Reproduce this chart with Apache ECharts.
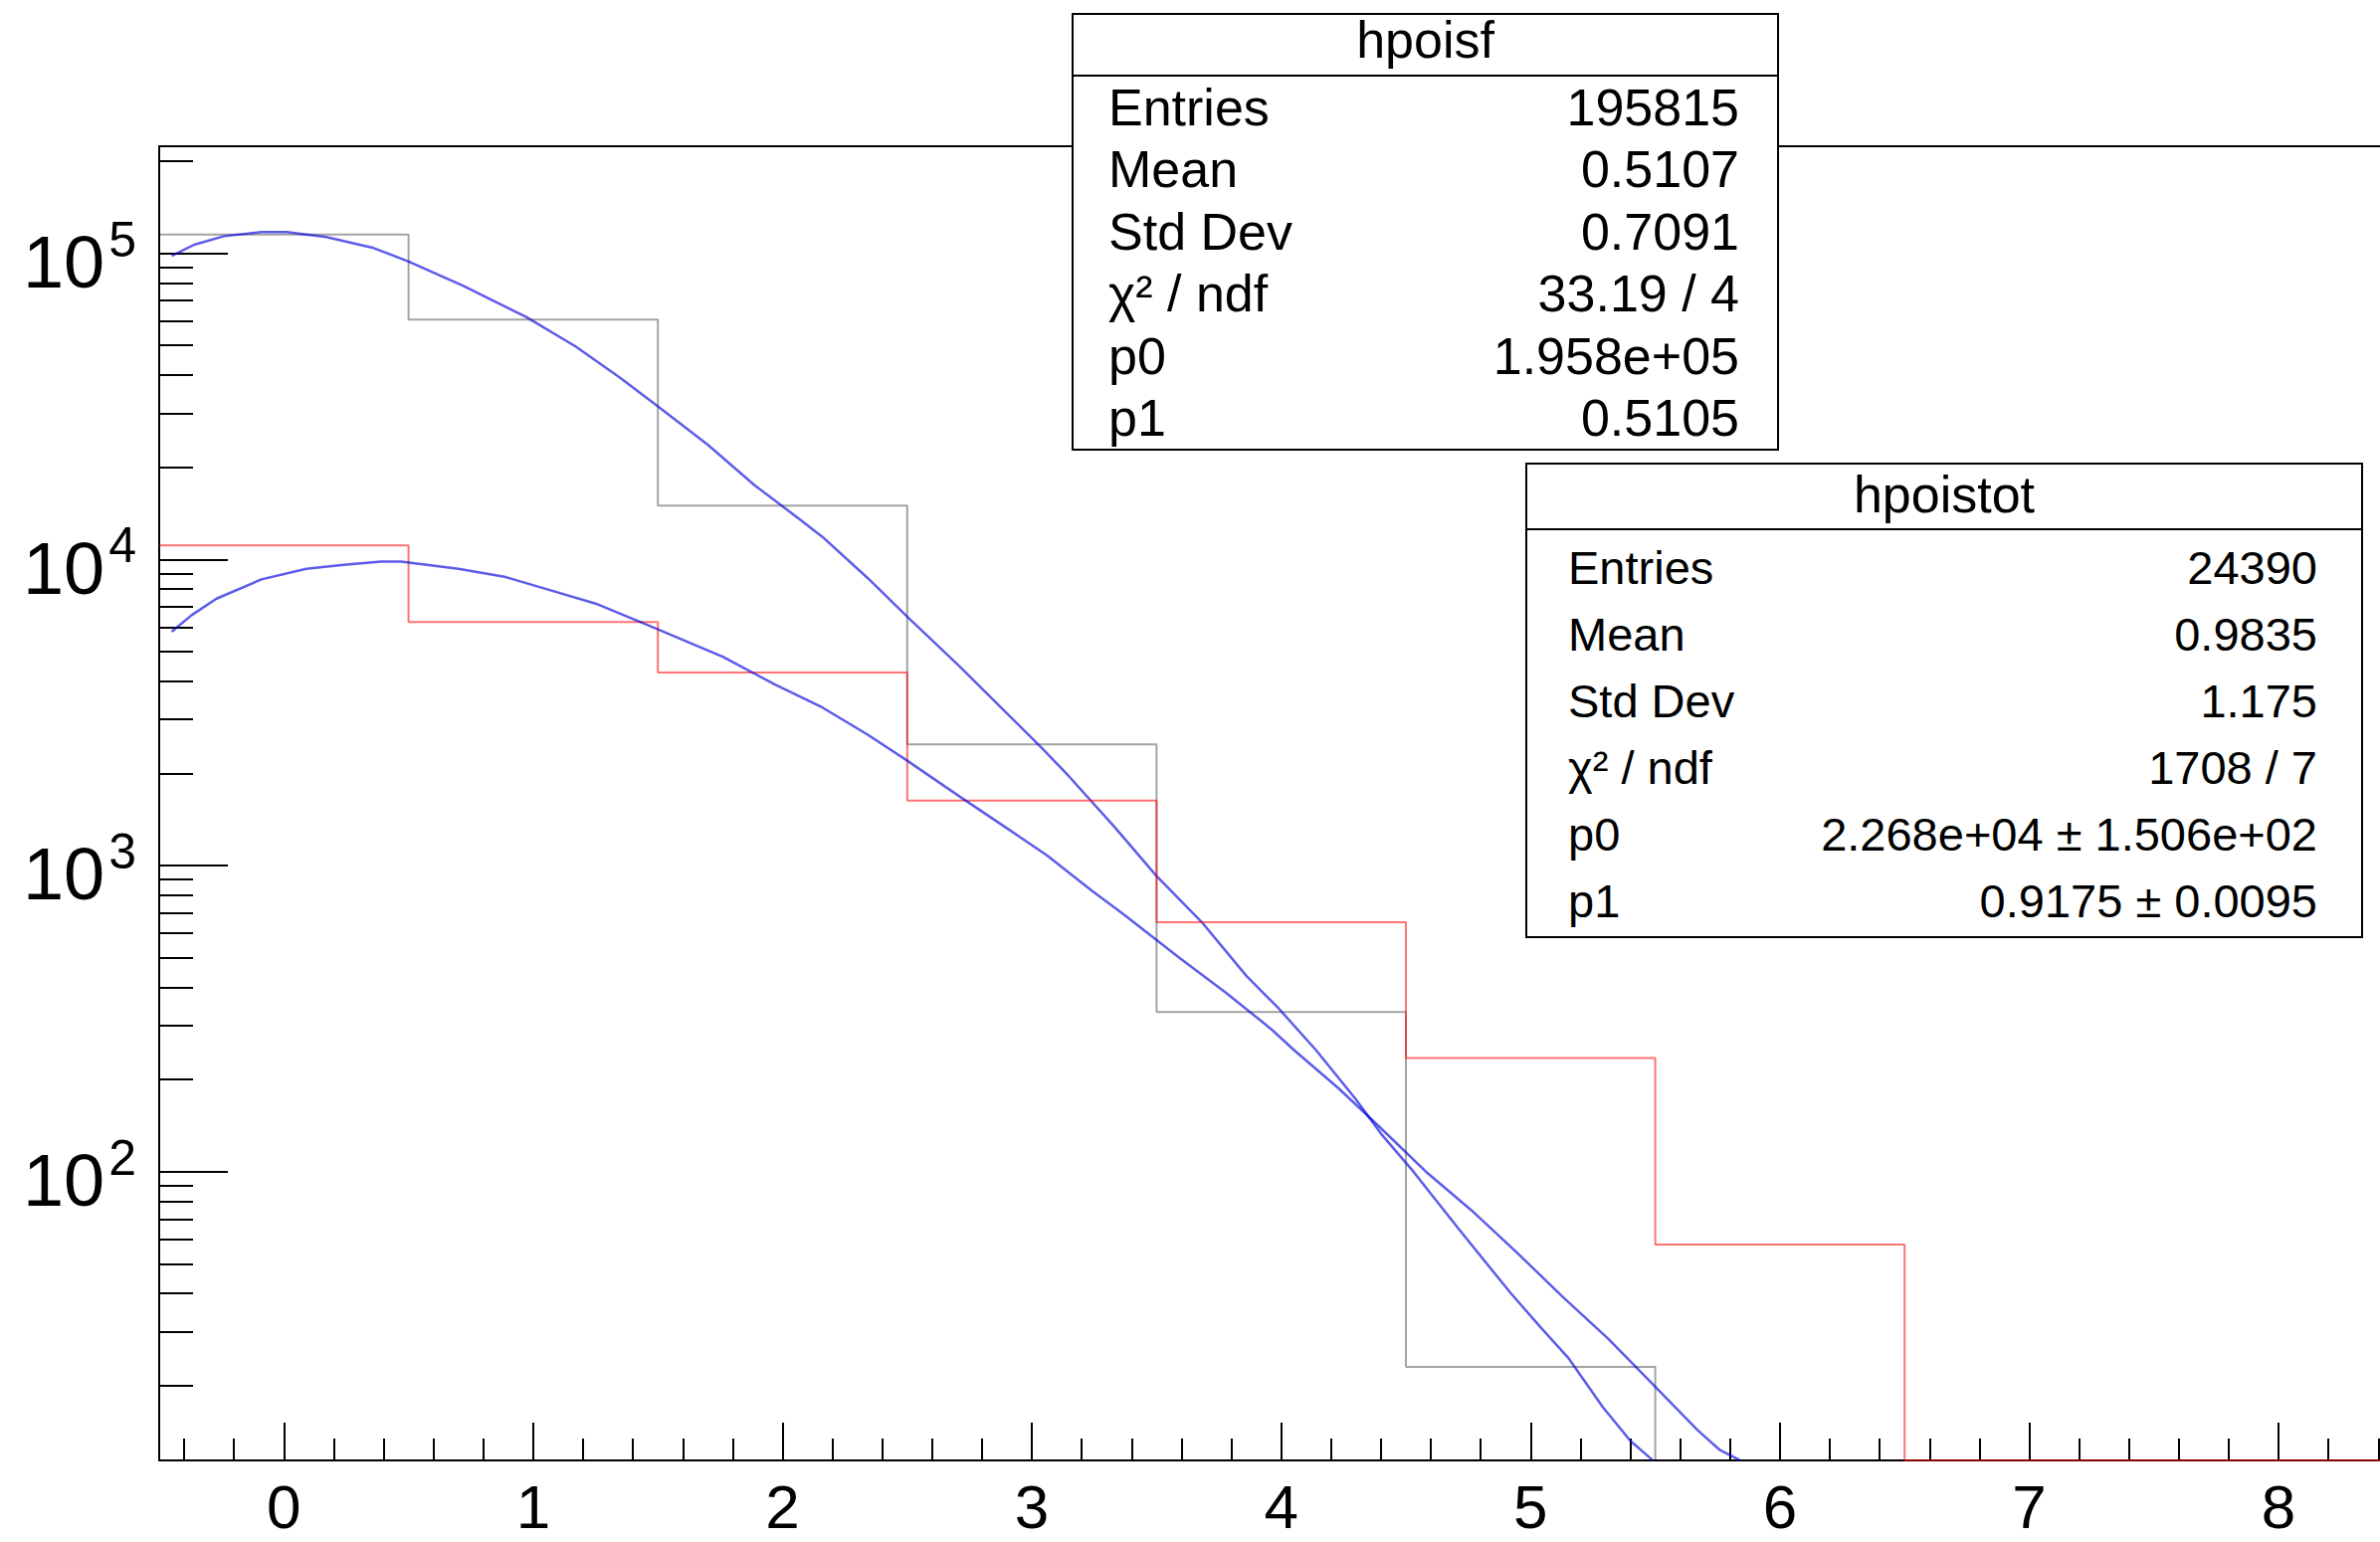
<!DOCTYPE html>
<html><head><meta charset="utf-8">
<script src="https://cdn.jsdelivr.net/npm/echarts@6.0.0/dist/echarts.min.js"></script>
<style>html,body{margin:0;padding:0;background:#fff;overflow:hidden}#c{width:2392px;height:1550px}</style>
</head><body><div id="c"></div>
<script>
// ---------- data ----------
const binCenters = [0, 1, 2, 3, 4, 5, 6, 7, 8];
const hpoisfCounts = [115100, 60700, 14980, 2486, 332, 23.0, 0, 0, 0];
const hpoistotCounts = [11100, 6240, 4270, 1630, 652, 235, 57.8, 0, 0];

const hpoisfFit = [[-0.45, 98000], [-0.36, 106600], [-0.24, 113700], [-0.09, 117200], [0.01, 117200],
  [0.17, 112900], [0.36, 104000], [0.5, 94000], [0.72, 78200], [0.97, 62000], [1.17, 49600],
  [1.35, 39100], [1.5, 31600], [1.7, 23700], [1.89, 17400], [2.07, 13500], [2.16, 11840],
  [2.34, 8710], [2.5, 6500], [2.71, 4470], [2.89, 3200], [3.04, 2420], [3.15, 1950], [3.33, 1340],
  [3.5, 923], [3.68, 655], [3.86, 436], [3.99, 341], [4.14, 249], [4.3, 172], [4.4, 133],
  [4.53, 100], [4.71, 65.2], [4.92, 40.1], [5.04, 31.0], [5.15, 24.7], [5.29, 17.0], [5.4, 13.2], [5.49, 11.4]];

const hpoistotFit = [[-0.45, 5800], [-0.37, 6570], [-0.27, 7440], [-0.09, 8600], [0.09, 9310],
  [0.24, 9590], [0.39, 9840], [0.47, 9840], [0.7, 9310], [0.89, 8750], [1.07, 7920], [1.25, 7170],
  [1.46, 6100], [1.76, 4810], [1.97, 3900], [2.16, 3280], [2.34, 2680], [2.5, 2200], [2.71, 1680],
  [2.89, 1340], [3.06, 1080], [3.24, 828], [3.37, 690], [3.59, 500], [3.78, 383], [3.96, 292],
  [4.05, 250], [4.23, 187], [4.39, 141], [4.58, 100], [4.76, 75.1], [4.94, 54.9], [5.13, 38.9],
  [5.31, 28.5], [5.49, 20.2], [5.67, 14.3], [5.76, 12.3], [5.84, 11.4]];

const xMajorTicks = [0, 1, 2, 3, 4, 5, 6, 7, 8];
const yMajorTicks = [100, 1000, 10000, 100000];

const statsFTitle = 'hpoisf';
const statsFLabels = ['Entries', 'Mean', 'Std Dev', 'χ² / ndf', 'p0', 'p1'];
const statsFValues = ['195815', '0.5107', '0.7091', '33.19 / 4', '1.958e+05', '0.5105'];
const statsTTitle = 'hpoistot';
const statsTLabels = ['Entries', 'Mean', 'Std Dev', 'χ² / ndf', 'p0', 'p1'];
const statsTValues = ['24390', '0.9835', '1.175', '1708 / 7', '2.268e+04 ± 1.506e+02', '0.9175 ± 0.0095'];

// ---------- axis ranges ----------
const X_MIN = -0.5, X_MAX = 8.4066;   // frame continues past the right edge of the picture
const Y_MIN = 11.39, Y_MAX = 2.236e5;
const FONT = '"Liberation Sans", Arial, Helvetica, sans-serif';

const xMinorTicks = [];
for (let k = -2; k <= 42; k++) { if (k % 5 !== 0) xMinorTicks.push(Math.round(k * 2) / 10); }
const yMinorTicks = [];
[10, 100, 1000, 10000, 100000].forEach(d => { for (let m = 2; m <= 9; m++) { const v = m * d; if (v > Y_MIN && v < Y_MAX) yMinorTicks.push(v); } });

function histLine(counts) {
  const pts = [];
  counts.forEach((c, i) => {
    const v = Math.max(c, Y_MIN);
    pts.push([binCenters[i] - 0.5, v], [binCenters[i] + 0.5, v]);
  });
  return pts;
}

function statsBox(b) {
  const els = [];
  els.push({ type: 'rect', z: 100, shape: { x: b.x, y: b.y, width: b.w, height: b.h },
    style: { fill: '#fff', stroke: '#000', lineWidth: 2 } });
  els.push({ type: 'line', z: 101, shape: { x1: b.x, y1: b.headY, x2: b.x + b.w, y2: b.headY },
    style: { stroke: '#000', lineWidth: 2 } });
  els.push({ type: 'text', z: 101, x: b.x + b.w / 2, y: b.titleY,
    style: { text: b.title, fontSize: b.titleSize, fontFamily: FONT, fill: '#000', align: 'center', verticalAlign: 'middle' } });
  b.labels.forEach((l, i) => {
    const yy = b.row0 + i * b.rowStep;
    els.push({ type: 'text', z: 101, x: b.labelX, y: yy,
      style: { text: l, fontSize: b.rowSize, fontFamily: FONT, fill: '#000', align: 'left', verticalAlign: 'middle' } });
    els.push({ type: 'text', z: 101, x: b.valueX, y: yy,
      style: { text: b.values[i], fontSize: b.rowSize, fontFamily: FONT, fill: '#000', align: 'right', verticalAlign: 'middle' } });
  });
  return els;
}

const blackLine = { color: '#000', width: 2 };

const option = {
  animation: false,
  backgroundColor: '#fff',
  grid: { left: 160, top: 147, right: 0, bottom: 82, show: false, containLabel: false },
  xAxis: [
    { type: 'value', min: X_MIN, max: X_MAX, position: 'bottom',
      axisLine: { show: true, onZero: false, lineStyle: blackLine },
      axisTick: { show: true, inside: true, length: 38, customValues: xMajorTicks, lineStyle: blackLine },
      axisLabel: { show: true, customValues: xMajorTicks, margin: 15, fontSize: 62, fontFamily: FONT, color: '#000' },
      splitLine: { show: false }, minorTick: { show: false } },
    { type: 'value', min: X_MIN, max: X_MAX, position: 'bottom',
      axisLine: { show: false, onZero: false },
      axisTick: { show: true, inside: true, length: 22, customValues: xMinorTicks, lineStyle: blackLine },
      axisLabel: { show: false }, splitLine: { show: false } },
    { type: 'value', min: X_MIN, max: X_MAX, position: 'top',
      axisLine: { show: true, onZero: false, lineStyle: blackLine },
      axisTick: { show: false }, axisLabel: { show: false }, splitLine: { show: false } }
  ],
  yAxis: [
    { type: 'log', logBase: 10, min: Y_MIN, max: Y_MAX, position: 'left',
      axisLine: { show: true, onZero: false, lineStyle: blackLine },
      axisTick: { show: true, inside: true, length: 69, customValues: yMajorTicks, lineStyle: blackLine },
      axisLabel: { show: true, customValues: yMajorTicks, margin: 23, padding: [18, 0, 0, 0],
        formatter: v => '{b|10}{s|' + Math.round(Math.log10(v)) + '}',
        rich: { b: { fontSize: 74, lineHeight: 96, fontFamily: FONT, color: '#000' },
                s: { fontSize: 50, lineHeight: 50, verticalAlign: 'top', fontFamily: FONT, color: '#000', padding: [0, 0, 0, 4] } } },
      splitLine: { show: false } },
    { type: 'log', logBase: 10, min: Y_MIN, max: Y_MAX, position: 'left',
      axisLine: { show: false, onZero: false },
      axisTick: { show: true, inside: true, length: 34, customValues: yMinorTicks, lineStyle: blackLine },
      axisLabel: { show: false }, splitLine: { show: false } }
  ],
  series: [
    { name: 'hpoisf', type: 'line', data: histLine(hpoisfCounts), showSymbol: false, symbol: 'none',
      lineStyle: { color: 'rgba(0,0,0,0.36)', width: 2 }, xAxisIndex: 0, yAxisIndex: 0 },
    { name: 'hpoisf fit', type: 'line', data: hpoisfFit, showSymbol: false, symbol: 'none',
      lineStyle: { color: 'rgba(0,0,220,0.64)', width: 2.5 }, xAxisIndex: 0, yAxisIndex: 0 },
    { name: 'hpoistot', type: 'line', data: histLine(hpoistotCounts), showSymbol: false, symbol: 'none',
      lineStyle: { color: 'rgba(255,0,0,0.55)', width: 2 }, xAxisIndex: 0, yAxisIndex: 0 },
    { name: 'hpoistot fit', type: 'line', data: hpoistotFit, showSymbol: false, symbol: 'none',
      lineStyle: { color: 'rgba(0,0,220,0.64)', width: 2.5 }, xAxisIndex: 0, yAxisIndex: 0 }
  ],
  graphic: [
    ...statsBox({ x: 1078, y: 14, w: 709, h: 438, headY: 76, title: statsFTitle, titleY: 40, titleSize: 52,
      labels: statsFLabels, values: statsFValues, rowSize: 52, labelX: 1114, valueX: 1748, row0: 108, rowStep: 62.4 }),
    ...statsBox({ x: 1534, y: 466, w: 840, h: 476, headY: 532, title: statsTTitle, titleY: 497, titleSize: 52,
      labels: statsTLabels, values: statsTValues, rowSize: 47, labelX: 1576, valueX: 2329, row0: 570, rowStep: 67 })
  ]
};

const chart = echarts.init(document.getElementById('c'), null, { renderer: 'svg', width: 2392, height: 1550 });
chart.setOption(option);
</script>
</body></html>
